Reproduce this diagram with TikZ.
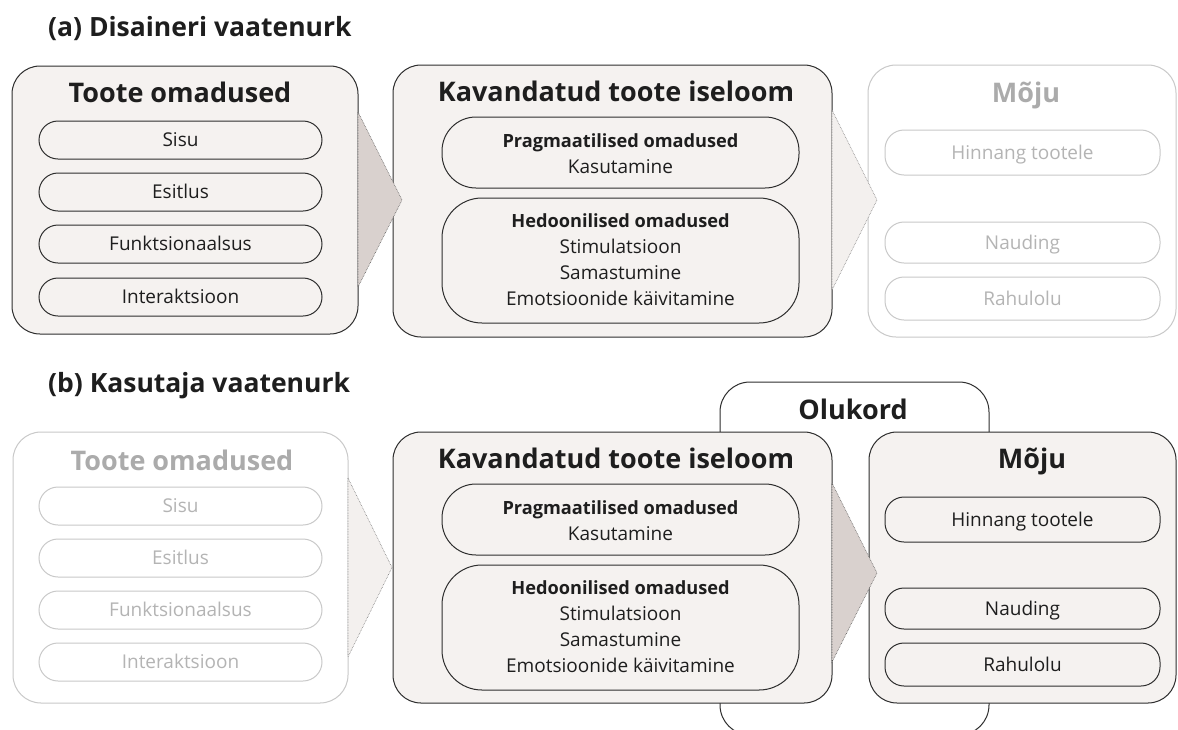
\documentclass[tikz,border=0pt]{standalone}
\usepackage{fontspec}
\setmainfont{Open Sans}
\usetikzlibrary{calc}
\definecolor{boxfill}{HTML}{F5F2F0}
\definecolor{boxline}{HTML}{2E2E2E}
\definecolor{greyline}{HTML}{C9C9C9}
\definecolor{greytext}{HTML}{B4B4B4}
\definecolor{greytitle}{HTML}{ABABAB}
\definecolor{arrowfill}{HTML}{D9D1CE}
\definecolor{arrowlight}{HTML}{F3F0EE}
\definecolor{arrowline}{HTML}{555555}
\definecolor{ink}{HTML}{1E1E1E}
\begin{document}
\begin{tikzpicture}[x=1pt,y=-1pt,
  frame/.style={inner sep=0pt, outer sep=0pt, line width=1pt},
  bigbox/.style={frame, draw=boxline, fill=boxfill, rounded corners=28pt},
  ghostbox/.style={frame, draw=greyline, fill=white, rounded corners=28pt},
  pill/.style={frame, draw=boxline, fill=boxfill, rounded corners=19pt},
  ghostpill/.style={frame, draw=greyline, fill=white, rounded corners=19pt},
  widepill/.style={frame, draw=boxline, fill=boxfill, rounded corners=34pt},
  heading/.style={anchor=base west, inner sep=0pt, font=\fontsize{26.5}{30}\selectfont\bfseries, text=ink},
  boxtitle/.style={anchor=base, inner sep=0pt, font=\fontsize{27}{30}\selectfont\bfseries, text=ink},
  ghosttitle/.style={boxtitle, text=greytitle},
  itemtext/.style={anchor=base, inner sep=0pt, font=\fontsize{19}{26}\selectfont, text=ink},
  ghosttext/.style={itemtext, text=greytext},
  boldtext/.style={itemtext, font=\fontsize{18.2}{26}\selectfont\bfseries},
  chevron/.style={fill=arrowfill, draw=arrowline, densely dotted, line width=0.6pt},
  ghostchevron/.style={fill=arrowlight, draw=arrowline!80, densely dotted, line width=0.6pt},
]
\useasboundingbox (0,0) rectangle (1178,729);
\fill[white] (0,0) rectangle (1178,729);

% ---------- (a) ----------
\node[heading] (ha) at (48,36) {(a) Disaineri vaatenurk};

\node[bigbox, minimum width=346pt, minimum height=268pt] (a1) at (185,200) {};
\node[bigbox, minimum width=439pt, minimum height=272pt] (a2) at (612.5,201) {};
\node[ghostbox, minimum width=308pt, minimum height=272pt] (a3) at (1022,201) {};

\node[boxtitle] (a1t) at (180,102) {Toote omadused};
\foreach \n/\y/\t in {s/140/Sisu, e/192/Esitlus, f/244/Funktsionaalsus, i/297/Interaktsioon}{
  \node[pill, minimum width=283pt, minimum height=38pt] (a1\n) at (180.5,\y) {};
  \node[itemtext] (a1\n t) at (180.5,\y+6.5) {\t};
}

\node[boxtitle] (a2t) at (616,101) {Kavandatud toote iseloom};
\node[widepill, minimum width=357pt, minimum height=71pt] (a2p) at (620.5,152.5) {};
\node[boldtext] (a2pa) at (620.5,147) {Pragmaatilised omadused};
\node[itemtext] (a2pb) at (620.5,173) {Kasutamine};
\node[widepill, rounded corners=40pt, minimum width=357pt, minimum height=125pt] (a2h) at (620.5,260.5) {};
\node[boldtext] (a2ha) at (620.5,227) {Hedoonilised omadused};
\node[itemtext] (a2hb) at (620.5,253) {Stimulatsioon};
\node[itemtext] (a2hc) at (620.5,279) {Samastumine};
\node[itemtext] (a2hd) at (620.5,305) {Emotsioonide käivitamine};

\node[ghosttitle] (a3t) at (1026,102) {Mõju};
\node[ghostpill, minimum width=275pt, minimum height=45pt] (a3a) at (1022.5,152.5) {};
\node[ghosttext] (a3at) at (1022.5,159) {Hinnang tootele};
\node[ghostpill, minimum width=275pt, minimum height=41pt] (a3b) at (1022.5,242.5) {};
\node[ghosttext] (a3bt) at (1022.5,249) {Nauding};
\node[ghostpill, minimum width=275pt, minimum height=43pt] (a3c) at (1022.5,298.5) {};
\node[ghosttext] (a3ct) at (1022.5,305) {Rahulolu};

\draw[chevron] ($(a1.east)+(0,-88)$) -- ($(a2.west)+(9,-1)$) -- ($(a1.east)+(0,87)$) -- cycle;
\draw[ghostchevron] ($(a2.east)+(0,-91)$) -- ($(a3.west)+(9,-1)$) -- ($(a2.east)+(0,89)$) -- cycle;

% ---------- (b) ----------
\node[heading] (hb) at (48,392) {(b) Kasutaja vaatenurk};

\node[frame, draw=boxline, fill=white, rounded corners=30pt, minimum width=269pt, minimum height=353pt] (ctx) at (854.5,558.5) {};
\node[boxtitle] (ctxt) at (853,419) {Olukord};

\node[ghostbox, minimum width=335pt, minimum height=271pt] (b1) at (180.5,567.5) {};
\node[bigbox, minimum width=439pt, minimum height=271pt] (b2) at (612.5,567.5) {};
\node[bigbox, minimum width=307pt, minimum height=271pt] (b3) at (1022.5,567.5) {};

\node[ghosttitle] (b1t) at (182,470) {Toote omadused};
\foreach \n/\y/\t in {s/506/Sisu, e/558/Esitlus, f/610/Funktsionaalsus, i/662/Interaktsioon}{
  \node[ghostpill, minimum width=283pt, minimum height=38pt] (b1\n) at (180.5,\y) {};
  \node[ghosttext] (b1\n t) at (180.5,\y+6.5) {\t};
}

\node[boxtitle] (b2t) at (616,468) {Kavandatud toote iseloom};
\node[widepill, minimum width=357pt, minimum height=71pt] (b2p) at (620.5,519.5) {};
\node[boldtext] (b2pa) at (620.5,514) {Pragmaatilised omadused};
\node[itemtext] (b2pb) at (620.5,540) {Kasutamine};
\node[widepill, rounded corners=40pt, minimum width=357pt, minimum height=125pt] (b2h) at (620.5,627.5) {};
\node[boldtext] (b2ha) at (620.5,594) {Hedoonilised omadused};
\node[itemtext] (b2hb) at (620.5,620) {Stimulatsioon};
\node[itemtext] (b2hc) at (620.5,646) {Samastumine};
\node[itemtext] (b2hd) at (620.5,672) {Emotsioonide käivitamine};

\node[boxtitle] (b3t) at (1032,468) {Mõju};
\node[pill, minimum width=275pt, minimum height=45pt] (b3a) at (1022.5,519.5) {};
\node[itemtext] (b3at) at (1022.5,526) {Hinnang tootele};
\node[pill, minimum width=275pt, minimum height=41pt] (b3b) at (1022.5,608.5) {};
\node[itemtext] (b3bt) at (1022.5,615) {Nauding};
\node[pill, minimum width=275pt, minimum height=43pt] (b3c) at (1022.5,664.5) {};
\node[itemtext] (b3ct) at (1022.5,671) {Rahulolu};

\draw[ghostchevron] ($(b1.east)+(0,-89.5)$) -- ($(b2.west)+(-1,0)$) -- ($(b1.east)+(0,89.5)$) -- cycle;
\draw[chevron] ($(b2.east)+(0,-84.5)$) -- ($(b3.west)+(8,5.5)$) -- ($(b2.east)+(0,94.5)$) -- cycle;
\end{tikzpicture}
\end{document}
